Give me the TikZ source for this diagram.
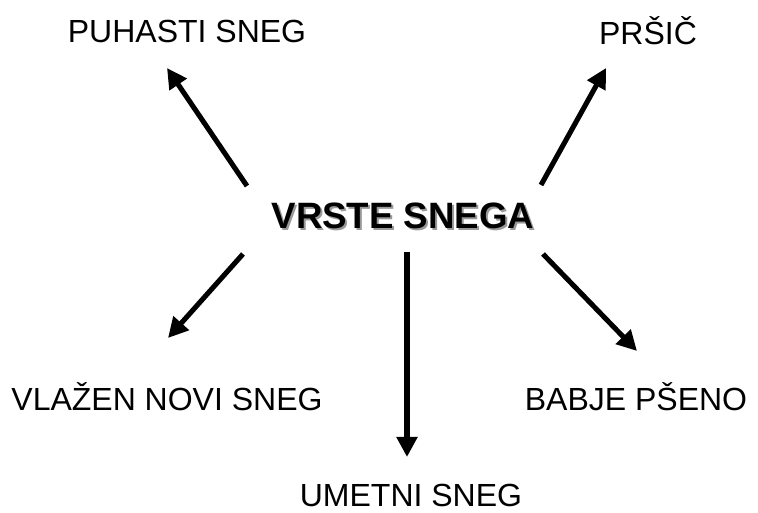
\documentclass[tikz,border=0pt]{standalone}
\usepackage{fontspec}
\setmainfont{Liberation Sans}
\usetikzlibrary{arrows.meta}
\begin{document}
\begin{tikzpicture}[x=0.75pt,y=-0.75pt,
  vrsta/.style={font=\fontsize{24}{28}\selectfont},
  glavni/.style={font=\fontsize{27.5}{32}\selectfont\bfseries},
  puscica/.style={line width=3.8pt,-{Triangle[length=15pt,width=15pt]}}]
\useasboundingbox (0,0) rectangle (758,513);
\node[glavni,text=black!40] (senca) at (405,218) {VRSTE SNEGA};
\node[glavni] (vrste) at (403,216) {VRSTE SNEGA};
\node[vrsta] (puhasti) at (187,31) {PUHASTI SNEG};
\node[vrsta] (prsic) at (648,31) {PRŠIČ};
\node[vrsta] (vlazen) at (167,397) {VLAŽEN NOVI SNEG};
\node[vrsta] (babje) at (636,397) {BABJE PŠENO};
\node[vrsta] (umetni) at (411,495) {UMETNI SNEG};
\coordinate (a1) at (247,186);
\coordinate (b1) at (167,68);
\coordinate (a2) at (541,185);
\coordinate (b2) at (606,68);
\coordinate (a3) at (243,254);
\coordinate (b3) at (168,338);
\coordinate (a4) at (407,252);
\coordinate (b4) at (407,457);
\coordinate (a5) at (543,254);
\coordinate (b5) at (637,351);
\draw[puscica] (a1) -- (b1);
\draw[puscica] (a2) -- (b2);
\draw[puscica] (a3) -- (b3);
\draw[puscica] (a4) -- (b4);
\draw[puscica] (a5) -- (b5);
\end{tikzpicture}
\end{document}
